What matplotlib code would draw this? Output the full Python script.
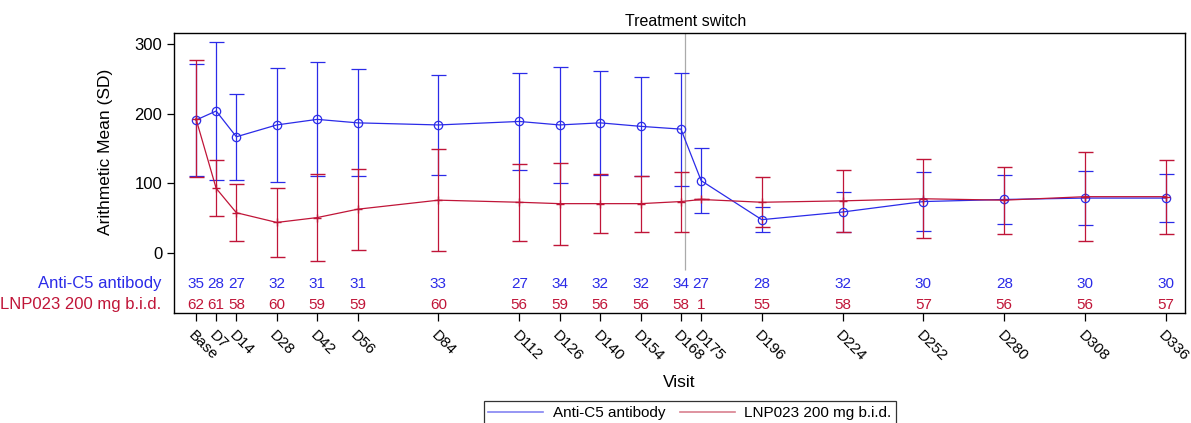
import numpy as np
import matplotlib
matplotlib.use("Agg")
import matplotlib.pyplot as plt
import matplotlib.transforms as mtransforms
from matplotlib.lines import Line2D

plt.rcParams['font.family'] = ['Liberation Sans', 'DejaVu Sans']

# visit labels and study day of each visit
visits = ["Base", "D7", "D14", "D28", "D42", "D56", "D84", "D112", "D126", "D140",
          "D154", "D168", "D175", "D196", "D224", "D252", "D280", "D308", "D336"]
days = [0, 7, 14, 28, 42, 56, 84, 112, 126, 140, 154, 168, 175, 196, 224, 252, 280, 308, 336]

# Anti-C5 antibody arm
c5_mean = [191, 204, 167, 184, 192, 187, 184, 189, 184, 187, 182, 178, 104, 48, 59, 74, 77, 79, 79]
c5_sd = [81, 99, 62, 82, 82, 77, 72, 70, 83, 75, 71, 81, 47, 18, 29, 42, 35, 39, 35]
c5_n = [35, 28, 27, 32, 31, 31, 33, 27, 34, 32, 32, 34, 27, 28, 32, 30, 28, 30, 30]

# LNP023 200 mg b.i.d. arm
lnp_mean = [193, 93, 58, 44, 51, 63, 76, 73, 71, 71, 71, 74, 77, 73, 75, 78, 76, 81, 81]
lnp_sd = [84, 40, 41, 50, 62, 58, 73, 55, 59, 42, 40, 43, 0, 36, 44, 57, 48, 64, 53]
lnp_n = [62, 61, 58, 60, 59, 59, 60, 56, 59, 56, 56, 58, 1, 55, 58, 57, 56, 56, 57]

switch_day = 169.5

blue = "#2b2be8"
red = "#c01538"

fig = plt.figure(figsize=(11.91, 4.23), dpi=100)
ax = fig.add_axes([174 / 1191, 110 / 423, 1011 / 1191, 280 / 423])

ax.errorbar(days, c5_mean, yerr=c5_sd, color=blue, lw=0.9, elinewidth=0.9,
            capsize=5.4, capthick=0.9, marker="o", ms=6, mfc="none", mec=blue,
            mew=0.9, zorder=3)
ax.errorbar(days, lnp_mean, yerr=lnp_sd, color=red, lw=0.9, elinewidth=0.9,
            capsize=5.4, capthick=0.9, marker="+", ms=6, mew=1.0, zorder=3)

ax.set_ylim(-86, 316)
ax.set_xlim(-7.6, 342.6)
ax.vlines(switch_day, -24, 316, color="#aaaaaa", lw=0.9, zorder=1)
ax.text(switch_day, 1.015, "Treatment switch", transform=ax.get_xaxis_transform(),
        ha="center", va="bottom", fontsize=11.5)

# subject counts under the curves
for d, n1, n2 in zip(days, c5_n, lnp_n):
    ax.text(d, -44, str(n1), color=blue, ha="center", va="center", fontsize=11)
    ax.text(d, -74, str(n2), color=red, ha="center", va="center", fontsize=11)

trans = mtransforms.blended_transform_factory(fig.transFigure, ax.transData)
fig.text(161 / 1191, -44, "Anti-C5 antibody", color=blue, ha="right", va="center",
         fontsize=12, transform=trans)
fig.text(161 / 1191, -74, "LNP023 200 mg b.i.d.", color=red, ha="right", va="center",
         fontsize=12, transform=trans)

ax.set_yticks([0, 100, 200, 300])
ax.tick_params(axis="y", labelsize=12, length=5, width=0.9, direction="out")
ax.set_xticks(days)
ax.set_xticklabels(visits, rotation=-45, ha="left", va="top", rotation_mode="anchor",
                   fontsize=11)
ax.tick_params(axis="x", length=6, width=0.9, direction="out", pad=5)

ax.set_ylabel("Arithmetic Mean (SD)", fontsize=12.5)
ax.yaxis.set_label_coords(-0.060, 0.575)
ax.set_xlabel("Visit", fontsize=12.5, labelpad=8)

for s in ax.spines.values():
    s.set_linewidth(1.0)

handles = [Line2D([], [], color="#8484f2", lw=1.2), Line2D([], [], color="#d9808f", lw=1.2)]
leg = fig.legend(handles, ["Anti-C5 antibody", "LNP023 200 mg b.i.d."], loc="center",
                 bbox_to_anchor=(690 / 1191, 1 - 413 / 423), ncol=2, frameon=True,
                 fancybox=False, edgecolor="black", fontsize=11, handlelength=3.6,
                 handletextpad=0.6, borderpad=0.3, columnspacing=1.0)
leg.get_frame().set_linewidth(0.9)

fig.savefig("out.png", dpi=100)
